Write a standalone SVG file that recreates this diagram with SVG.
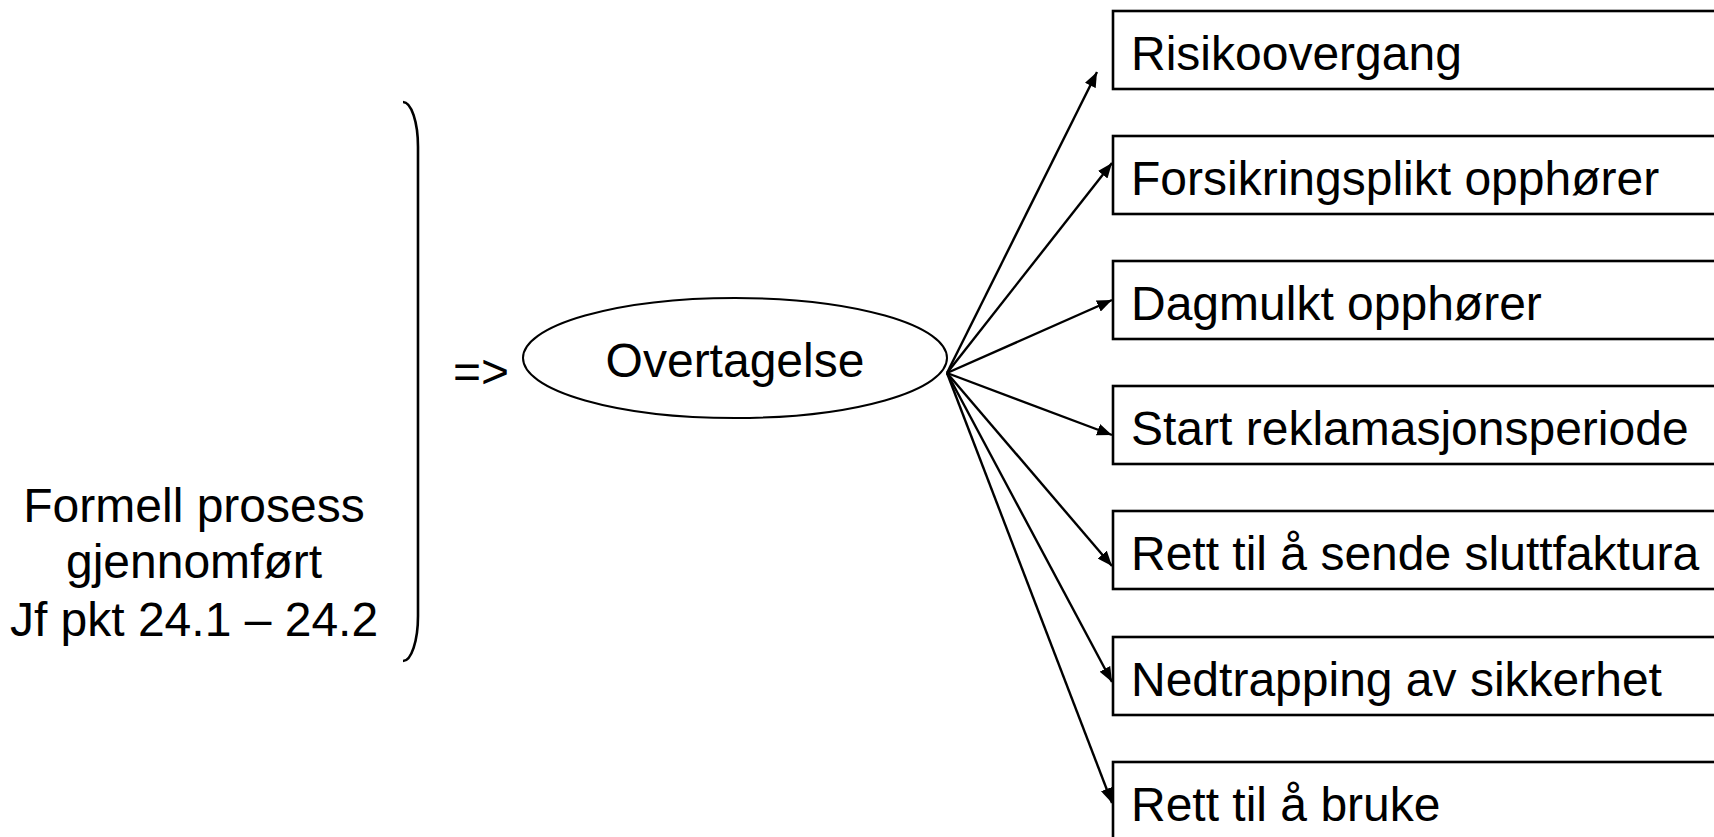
<svg xmlns="http://www.w3.org/2000/svg" width="1714" height="837" viewBox="0 0 1714 837">
<style>
text{font-family:"Liberation Sans",Arial,sans-serif;font-size:48px;fill:#000}
.box{fill:#fff;stroke:#000;stroke-width:2.6}
.conn{stroke:#000;stroke-width:2.4;fill:none;marker-end:url(#ah)}
</style>
<defs>
<marker id="ah" markerUnits="userSpaceOnUse" markerWidth="16" markerHeight="12" refX="15" refY="6" orient="auto">
<path d="M0,0 L15,6 L0,12 z" fill="#000"/>
</marker>
</defs>
<rect width="1714" height="837" fill="#fff"/>
<g id="left-label">
<text x="194" y="522" text-anchor="middle">Formell prosess</text>
<text x="194" y="578" text-anchor="middle">gjennomført</text>
<text x="194" y="636" text-anchor="middle">Jf pkt 24.1 – 24.2</text>
</g>
<g id="bracket">
<path d="M403,102 A15,45 0 0 1 418,147 V616 A15,45 0 0 1 403,661" fill="none" stroke="#000" stroke-width="2.6"/>
</g>
<g id="implies">
<text x="453" y="388">=&gt;</text>
</g>
<g id="overtagelse">
<ellipse cx="735" cy="358" rx="212" ry="60" fill="#fff" stroke="#000" stroke-width="2"/>
<text x="735" y="377" text-anchor="middle">Overtagelse</text>
</g>
<g id="connectors">
<line class="conn" x1="947" y1="373" x2="1097" y2="72"/>
<line class="conn" x1="947" y1="373" x2="1112" y2="163"/>
<line class="conn" x1="947" y1="373" x2="1112" y2="300"/>
<line class="conn" x1="947" y1="373" x2="1112" y2="435"/>
<line class="conn" x1="947" y1="373" x2="1112" y2="566"/>
<line class="conn" x1="947" y1="373" x2="1112" y2="682"/>
<line class="conn" x1="947" y1="373" x2="1112" y2="803"/>
</g>
<g id="box1"><rect class="box" x="1113" y="11" width="640" height="78"/><text x="1131" y="70">Risikoovergang</text></g>
<g id="box2"><rect class="box" x="1113" y="136" width="640" height="78"/><text x="1131" y="195">Forsikringsplikt opphører</text></g>
<g id="box3"><rect class="box" x="1113" y="261" width="640" height="78"/><text x="1131" y="320">Dagmulkt opphører</text></g>
<g id="box4"><rect class="box" x="1113" y="386" width="640" height="78"/><text x="1131" y="445">Start reklamasjonsperiode</text></g>
<g id="box5"><rect class="box" x="1113" y="511" width="640" height="78"/><text x="1131" y="570">Rett til å sende sluttfaktura</text></g>
<g id="box6"><rect class="box" x="1113" y="637" width="640" height="78"/><text x="1131" y="696">Nedtrapping av sikkerhet</text></g>
<g id="box7"><rect class="box" x="1113" y="762" width="640" height="78"/><text x="1131" y="821">Rett til å bruke</text></g>
</svg>
